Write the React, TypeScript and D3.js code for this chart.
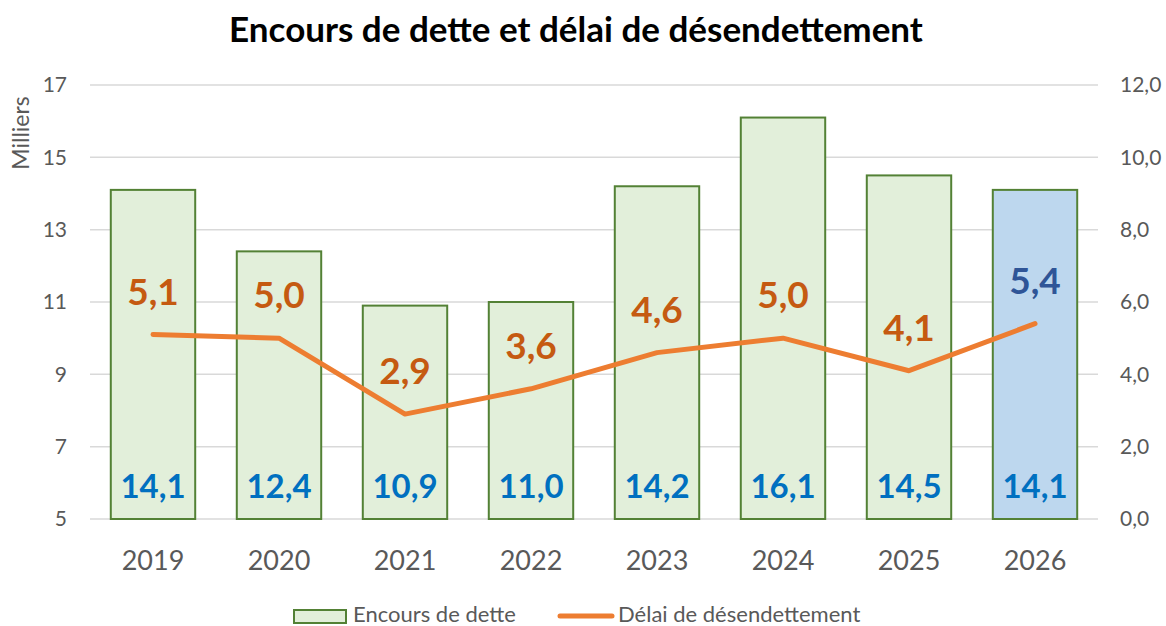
import { useMemo } from "react";
import * as d3 from "d3";

// Chart data
const years = ["2019", "2020", "2021", "2022", "2023", "2024", "2025", "2026"];
const encours = [14.1, 12.4, 10.9, 11.0, 14.2, 16.1, 14.5, 14.1];
const delai = [5.1, 5.0, 2.9, 3.6, 4.6, 5.0, 4.1, 5.4];
const leftTicks = [5, 7, 9, 11, 13, 15, 17];
const rightTicks = [0, 2, 4, 6, 8, 10, 12];

const FONT = "Lato, 'Open Sans', sans-serif";
const fmt = (v: number, d = 1) => v.toFixed(d).replace(".", ",");

export default function App() {
  const width = 1166;
  const height = 626;
  const margin = { top: 85, right: 68, bottom: 107, left: 90 };
  const innerW = width - margin.left - margin.right;
  const innerH = height - margin.top - margin.bottom;

  const x = useMemo(
    () => d3.scaleBand<string>().domain(years).range([0, innerW]).paddingInner(0.33).paddingOuter(0.165),
    [innerW]
  );
  const yL = useMemo(() => d3.scaleLinear().domain([5, 17]).range([innerH, 0]), [innerH]);
  const yR = useMemo(() => d3.scaleLinear().domain([0, 12]).range([innerH, 0]), [innerH]);

  const line = d3
    .line<number>()
    .x((_, i) => (x(years[i]) || 0) + x.bandwidth() / 2)
    .y((d) => yR(d));

  const last = years.length - 1;

  return (
    <svg width={width} height={height} style={{ position: "absolute", left: 0, top: 0, background: "#fff" }}>
      <text x={576} y={42} textAnchor="middle" fontFamily={FONT} fontWeight={700} fontSize={35} fill="#000">
        Encours de dette et délai de désendettement
      </text>
      <text
        transform={`translate(29,133) rotate(-90)`}
        textAnchor="middle"
        fontFamily={FONT}
        fontSize={23}
        fill="#595959"
      >
        Milliers
      </text>
      <g transform={`translate(${margin.left},${margin.top})`}>
        {/* grid */}
        {leftTicks.map((t) => (
          <line key={t} x1={0} x2={innerW} y1={yL(t)} y2={yL(t)} stroke="#d9d9d9" strokeWidth={1.5} />
        ))}
        {/* left axis labels */}
        {leftTicks.map((t) => (
          <text key={t} x={-23} y={yL(t)} dy="0.35em" textAnchor="end" fontFamily={FONT} fontSize={21} fill="#595959">
            {t}
          </text>
        ))}
        {/* right axis labels */}
        {rightTicks.map((t) => (
          <text key={t} x={innerW + 22} y={yR(t)} dy="0.35em" textAnchor="start" fontFamily={FONT} fontSize={21} fill="#595959">
            {fmt(t)}
          </text>
        ))}
        {/* bars */}
        {encours.map((v, i) => (
          <rect
            key={years[i]}
            x={x(years[i])}
            y={yL(v)}
            width={x.bandwidth()}
            height={innerH - yL(v)}
            fill={i === last ? "#BDD7EE" : "#E2EFDA"}
            stroke="#538135"
            strokeWidth={2}
          />
        ))}
        {/* x labels */}
        {years.map((yr) => (
          <text
            key={yr}
            x={(x(yr) || 0) + x.bandwidth() / 2}
            y={innerH + 42}
            dy="0.35em"
            textAnchor="middle"
            fontFamily={FONT}
            fontSize={27}
            fill="#595959"
          >
            {yr}
          </text>
        ))}
        {/* bar value labels */}
        {encours.map((v, i) => (
          <text
            key={years[i]}
            x={(x(years[i]) || 0) + x.bandwidth() / 2}
            y={innerH - 33}
            dy="0.35em"
            textAnchor="middle"
            fontFamily={FONT}
            fontWeight={700}
            fontSize={33}
            fill="#0070C0"
          >
            {fmt(v)}
          </text>
        ))}
        {/* line */}
        <path d={line(delai) || ""} fill="none" stroke="#ED7D31" strokeWidth={5} strokeLinejoin="round" strokeLinecap="round" />
        {delai.map((v, i) => (
          <text
            key={years[i]}
            x={(x(years[i]) || 0) + x.bandwidth() / 2}
            y={yR(v) - 43}
            dy="0.35em"
            textAnchor="middle"
            fontFamily={FONT}
            fontWeight={700}
            fontSize={37}
            fill={i === last ? "#2F5597" : "#C55A11"}
          >
            {fmt(v)}
          </text>
        ))}
      </g>
      {/* legend */}
      <rect x={294} y={610} width={52} height={13} fill="#E2EFDA" stroke="#538135" strokeWidth={2} />
      <text x={353} y={622} fontFamily={FONT} fontSize={22} fill="#595959">
        Encours de dette
      </text>
      <line x1={560} x2={612} y1={616} y2={616} stroke="#ED7D31" strokeWidth={5} strokeLinecap="round" />
      <text x={618} y={622} fontFamily={FONT} fontSize={22} fill="#595959">
        Délai de désendettement
      </text>
    </svg>
  );
}
